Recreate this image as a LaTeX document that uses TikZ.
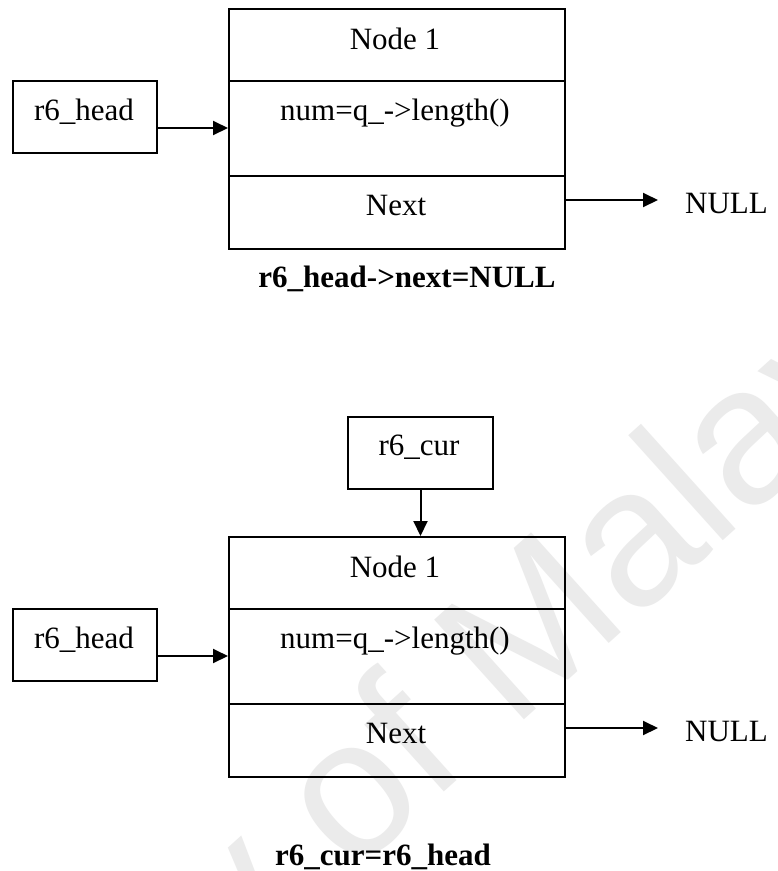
\documentclass[tikz,border=0pt]{standalone}
\usepackage{fontspec}
\setmainfont{Liberation Serif}
\newfontfamily\wmfont{Liberation Sans}
\usetikzlibrary{arrows.meta}
\begin{document}
\begin{tikzpicture}[x=1pt,y=-1pt,
  box/.style={draw, line width=2pt, inner sep=0pt, anchor=north west},
  lbl/.style={font=\fontsize{31}{37}\selectfont, inner sep=0pt, anchor=base},
  caption/.style={font=\fontsize{31}{37}\selectfont\bfseries, inner sep=0pt, anchor=base},
  link/.style={line width=2pt, -{Triangle[length=15pt,width=14pt]}},
  wm/.style={font=\wmfont\fontsize{195}{220}\selectfont, text=black!8, inner sep=0pt}]
\useasboundingbox (0,0) rectangle (778,871);
\clip (0,0) rectangle (778,871);
\fill[white] (0,0) rectangle (778,871);

% faint watermark across the lower half
\node[wm, rotate=42, anchor=base west] (wmark) at (-325,1485) {University of Malaya};

% ---------- first state: r6_head->next = NULL ----------
\node[box, minimum width=336pt, minimum height=72pt] (ta) at (228,8) {};
\node[box, minimum width=336pt, minimum height=95pt] (tb) at (228,80) {};
\node[box, minimum width=336pt, minimum height=73pt] (tc) at (228,175) {};
\node[box, minimum width=144pt, minimum height=72pt] (thead) at (12,80) {};

\node[lbl] (tatxt) at (395,49) {Node 1};
\node[lbl] (tbtxt) at (395,120) {num=q\_->length()};
\node[lbl] (tctxt) at (396,215) {Next};
\node[lbl] (theadtxt) at (84,120) {r6\_head};
\node[lbl, anchor=base west] (tnull) at (685,213) {NULL};
\node[caption] (tcap) at (407,287) {r6\_head->next=NULL};

\coordinate (theadend) at (228,128);
\coordinate (tnextend) at (658,200);
\draw[link] (thead.east |- theadend) -- (theadend);
\draw[link] (tc.east |- tnextend) -- (tnextend);

% ---------- second state: r6_cur = r6_head ----------
\node[box, minimum width=145pt, minimum height=72pt] (bcur) at (347,416) {};
\node[lbl] (bcurtxt) at (419,455) {r6\_cur};

\node[box, minimum width=336pt, minimum height=72pt] (ba) at (228,536) {};
\node[box, minimum width=336pt, minimum height=95pt] (bb) at (228,608) {};
\node[box, minimum width=336pt, minimum height=73pt] (bc) at (228,703) {};
\node[box, minimum width=144pt, minimum height=72pt] (bhead) at (12,608) {};

\node[lbl] (batxt) at (395,577) {Node 1};
\node[lbl] (bbtxt) at (395,648) {num=q\_->length()};
\node[lbl] (bctxt) at (396,743) {Next};
\node[lbl] (bheadtxt) at (84,648) {r6\_head};
\node[lbl, anchor=base west] (bnull) at (685,741) {NULL};
\node[caption] (bcap) at (383,865) {r6\_cur=r6\_head};

\coordinate (bheadend) at (228,656);
\coordinate (bnextend) at (658,728);
\draw[link] (bcur.south) -- (bcur.south |- ba.north);
\draw[link] (bhead.east |- bheadend) -- (bheadend);
\draw[link] (bc.east |- bnextend) -- (bnextend);
\end{tikzpicture}
\end{document}
